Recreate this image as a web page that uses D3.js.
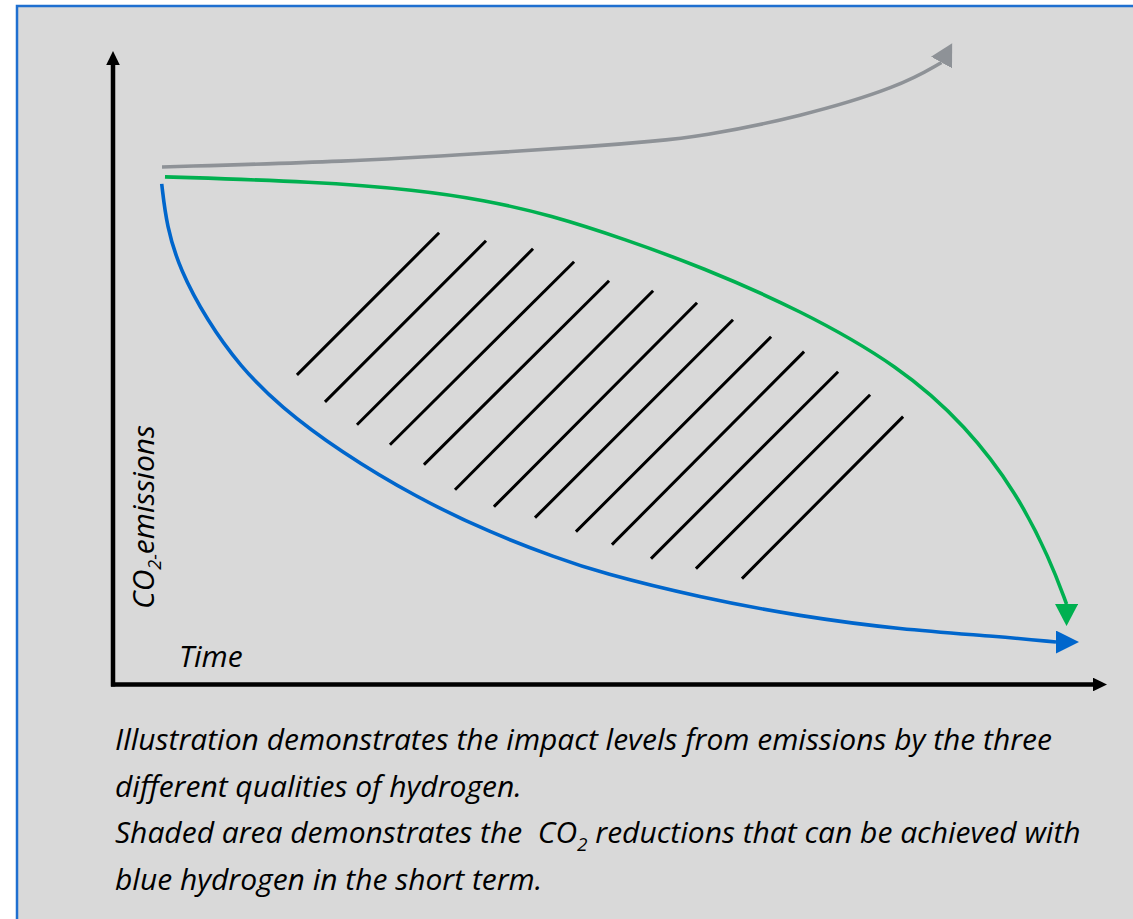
<!DOCTYPE html>
<html><head><meta charset="utf-8">
<script src="https://cdn.jsdelivr.net/npm/d3@7"></script>
<style>
body{margin:0;background:#fff}
svg{display:block}
text{font-family:"Open Sans",sans-serif;font-style:italic;fill:#000}
</style>
</head><body>
<svg id="c" width="1133" height="919"></svg>
<script>
// ---- data (time 0..100, emissions 0..100) ----
const grayCurve = [[4.93,81.70],[23.84,82.54],[37.22,83.83],[48.99,85.02],[54.02,85.73],[59.05,86.48],[69.11,89.59],[79.18,94.37],[83.35,98.19]];
const greenCurve = [[5.23,80.13],[20.49,79.38],[30.55,78.07],[37.25,76.50],[43.96,74.13],[51.68,70.19],[59.05,65.98],[69.11,59.15],[79.18,50.21],[85.88,40.74],[90.92,30.24],[94.27,19.72],[95.93,12.70]];
const blueCurve = [[4.90,79.02],[5.40,72.29],[6.74,65.46],[9.43,57.57],[12.78,50.21],[16.80,43.90],[22.84,36.77],[30.55,29.50],[37.93,23.98],[44.64,19.99],[49.00,17.66],[59.05,13.72],[69.11,10.77],[79.18,8.68],[89.24,7.57],[94.87,6.70]];
// shaded-area hatch lines: [x1, y1, x2, y2]
const hatchLines = [
  [18.61,49.05,32.70,71.14],[21.43,44.79,37.42,69.87],[24.65,41.17,42.15,68.61],
  [27.97,38.01,46.28,66.56],[31.39,34.86,49.80,63.56],[34.51,30.91,54.23,61.99],
  [38.43,28.23,58.65,60.09],[42.56,26.50,62.27,57.41],[46.68,24.29,66.10,54.73],
  [50.30,22.24,69.42,52.37],[54.23,20.03,72.84,49.21],[58.75,18.45,76.06,45.58],
  [63.38,16.88,79.38,42.11]
];
const axisLabels = {x:"Time", yMain:"CO", ySub:"2-", yRest:"emissions"};
const captionLines = [
  [{t:"Illustration demonstrates the impact levels from emissions by the three"}],
  [{t:"different qualities of hydrogen."}],
  [{t:"Shaded area demonstrates the  CO"},{t:"2",sub:true},{t:" reductions that can be achieved with"}],
  [{t:"blue hydrogen in the short term."}]
];

// ---- drawing ----
const W = 1133, H = 919;
const svg = d3.select("#c");
const x = d3.scaleLinear().domain([0,100]).range([113,1107]);
const y = d3.scaleLinear().domain([0,100]).range([684.5,51]);

svg.append("rect").attr("x",17).attr("y",6).attr("width",W+40).attr("height",H+40)
  .attr("fill","#d9d9d9").attr("stroke","#1f6fd0").attr("stroke-width",2.5);

const defs = svg.append("defs");
function marker(id, color, len, hw, orient){
  defs.append("marker").attr("id",id)
    .attr("viewBox",`0 ${-hw} ${len} ${2*hw}`)
    .attr("refX",0).attr("refY",0)
    .attr("markerUnits","userSpaceOnUse")
    .attr("markerWidth",len).attr("markerHeight",2*hw)
    .attr("orient",orient)
    .append("path").attr("d",`M0,${-hw}L${len},0L0,${hw}Z`).attr("fill",color);
}
marker("axArrow","#000",14,6.8,"auto");
marker("grayArrow","#8e9297",22,12,-61);
marker("greenArrow","#00b050",22,11.5,90);
marker("blueArrow","#0066cc",23,11.5,0);

// axes
svg.append("line").attr("x1",x(0)).attr("y1",y(0)+2).attr("x2",x(0)).attr("y2",y(100)+14)
  .attr("stroke","#000").attr("stroke-width",4.5).attr("marker-end","url(#axArrow)");
svg.append("line").attr("x1",x(0)-2).attr("y1",y(0)).attr("x2",x(100)-14).attr("y2",y(0))
  .attr("stroke","#000").attr("stroke-width",4.5).attr("marker-end","url(#axArrow)");

// hatch
svg.append("g").selectAll("line").data(hatchLines).join("line")
  .attr("x1",d=>x(d[0])).attr("y1",d=>y(d[1])).attr("x2",d=>x(d[2])).attr("y2",d=>y(d[3]))
  .attr("stroke","#000").attr("stroke-width",3).attr("stroke-linecap","square");

// curves
const line = d3.line().x(d=>x(d[0])).y(d=>y(d[1])).curve(d3.curveBasis);
[[grayCurve,"#8e9297","grayArrow",3.6],[greenCurve,"#00b050","greenArrow",3.6],[blueCurve,"#0066cc","blueArrow",3.6]]
.forEach(([data,color,m,w])=>{
  svg.append("path").attr("d",line(data)).attr("fill","none").attr("stroke",color)
    .attr("stroke-width",w).attr("marker-end",`url(#${m})`);
});

// axis labels
svg.append("text").attr("x",179).attr("y",667).attr("font-size",30).text(axisLabels.x);
const yl = svg.append("text").attr("transform","translate(154,609) rotate(-90)").attr("font-size",30);
yl.append("tspan").text(axisLabels.yMain);
yl.append("tspan").attr("font-size",18).attr("dy",7).text(axisLabels.ySub);
yl.append("tspan").attr("dy",-7).text(axisLabels.yRest);

// caption
const baselines = [750, 797, 843, 890];
captionLines.forEach((segs,i)=>{
  const t = svg.append("text").attr("x",115).attr("y",baselines[i]).attr("font-size",30)
    .style("white-space","pre");
  let shifted = false;
  segs.forEach(s=>{
    const ts = t.append("tspan").text(s.t);
    if(s.sub){ ts.attr("font-size",19).attr("dy",8); shifted=true; }
    else if(shifted){ ts.attr("dy",-8); shifted=false; }
  });
});
</script>
</body></html>
